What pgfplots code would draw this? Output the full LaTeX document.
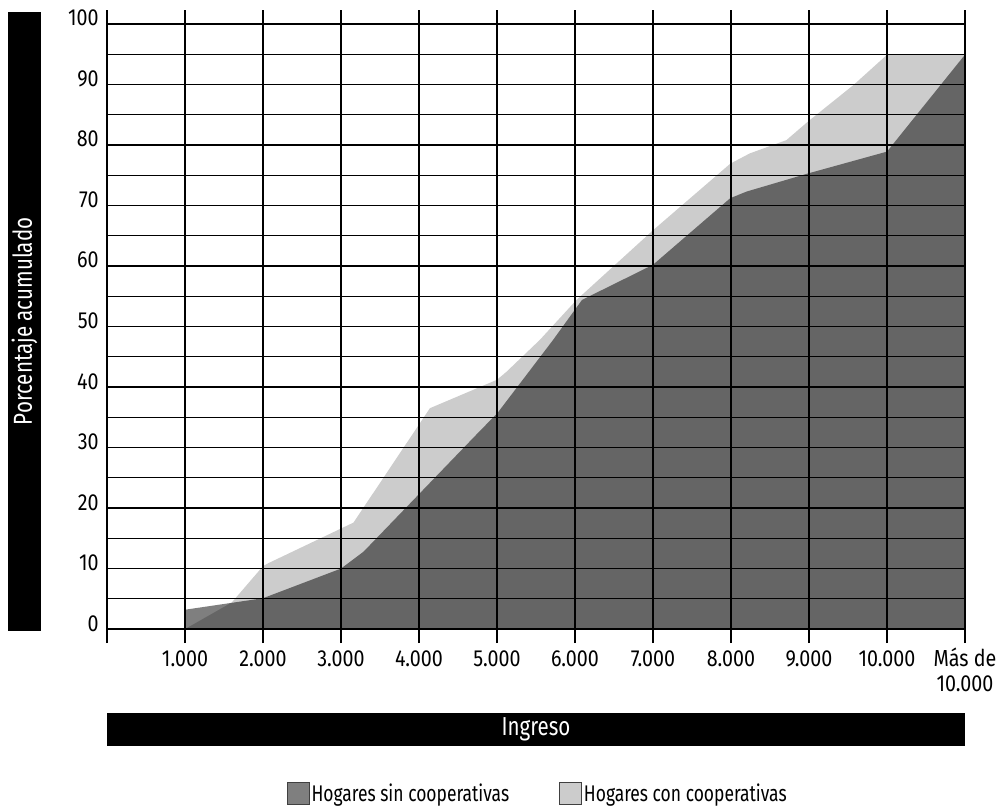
\documentclass[border=0pt]{standalone}
\usepackage{fontspec}
\setmainfont{Fira Sans}[FakeStretch=0.85]
\newfontfamily\labfont{Fira Sans}[FakeStretch=0.79]
\newfontfamily\legfont{Fira Sans}[FakeStretch=0.77]
\usepackage{pgfplots}
\pgfplotsset{compat=1.18}

\pgfplotsset{
  swatch/.style={legend image code/.code={%
    \draw[##1, draw=black!75, line width=0.6pt] (0pt,-8.5pt) rectangle (16.5pt,8pt);}},
}

% cumulative share, households with cooperatives (light)
\pgfplotstableread{
x     y
1.00  0.0
1.60  4.4
2.00  10.4
2.07  10.9
3.16  17.6
4.14  36.5
5.00  41.2
5.12  42.5
5.55  47.8
6.02  54.4
7.00  65.9
7.99  76.9
8.24  78.6
8.71  80.8
8.99  83.9
9.57  89.9
10.00 94.9
11.00 94.9
11.00 0.0
}\concoop

% households without cooperatives (dark)
\pgfplotstableread{
x     y
1.00  0.0
1.00  3.2
2.00  5.1
3.00  10.0
3.29  12.8
4.80  33.0
5.00  35.6
5.72  47.8
6.09  54.4
7.00  60.2
7.99  71.2
8.20  72.3
8.99  75.3
10.00 78.9
10.98 94.6
11.00 94.8
11.00 0.0
}\sincoop

\begin{document}
\begin{tikzpicture}
\useasboundingbox (0pt,0pt) rectangle (750.75pt,-605.25pt);

\begin{scope}[x=0.75pt,y=-0.75pt]
  \node[fill=black, text=white, inner sep=0pt, minimum width=464pt, minimum height=24.5pt,
        rotate=90, font=\labfont\fontsize{19.5}{22}\selectfont] at (24.4,321.4) {Porcentaje acumulado};
  \node[fill=black, text=white, inner sep=0pt, minimum width=643.5pt, minimum height=24.75pt,
        font=\labfont\fontsize{19.5}{22}\selectfont] at (536,729.5) {Ingreso};
\end{scope}

\begin{axis}[
    at={(80.25pt,-482.25pt)}, anchor=south west,
    scale only axis,
    width=643.5pt, height=474.75pt,
    xmin=0, xmax=11, ymin=-2.3, ymax=102.3,
    xtick={0,1,...,11},
    xticklabels={,1.000,2.000,3.000,4.000,5.000,6.000,7.000,8.000,9.000,10.000,
      {\begin{tabular}[t]{@{}c@{}}Más de\\10.000\end{tabular}}},
    ytick={0,10,...,100},
    minor ytick={5,15,...,95},
    /pgf/number format/assume math mode=true,
    grid=both,
    major grid style={black, line width=0.9pt},
    minor grid style={black, line width=0.9pt},
    axis line style={draw=none},
    major tick length=0pt, minor tick length=0pt,
    axis on top,
    ticklabel style={font=\fontsize{17.4}{18.75}\selectfont, inner sep=0pt},
    xticklabel style={anchor=base, yshift=-17.25pt},
    yticklabel style={anchor=base east, xshift=-6pt, yshift=-1.5pt},
    legend columns=2,
    reverse legend,
    legend style={at={(axis description cs:0.502,-0.238)}, anchor=center,
      draw=none, fill=none, inner sep=0pt,
      font=\legfont\fontsize{17}{19}\selectfont,
      nodes={inner xsep=1.5pt, inner ysep=0pt},
      /tikz/every even column/.append style={column sep=36pt}},
]
\addplot[draw=none, fill=black!20, swatch] table {\concoop};
\addplot[draw=none, fill=black, fill opacity=0.5, swatch] table {\sincoop};
\legend{Hogares con cooperativas, Hogares sin cooperativas}
\end{axis}
\end{tikzpicture}
\end{document}
